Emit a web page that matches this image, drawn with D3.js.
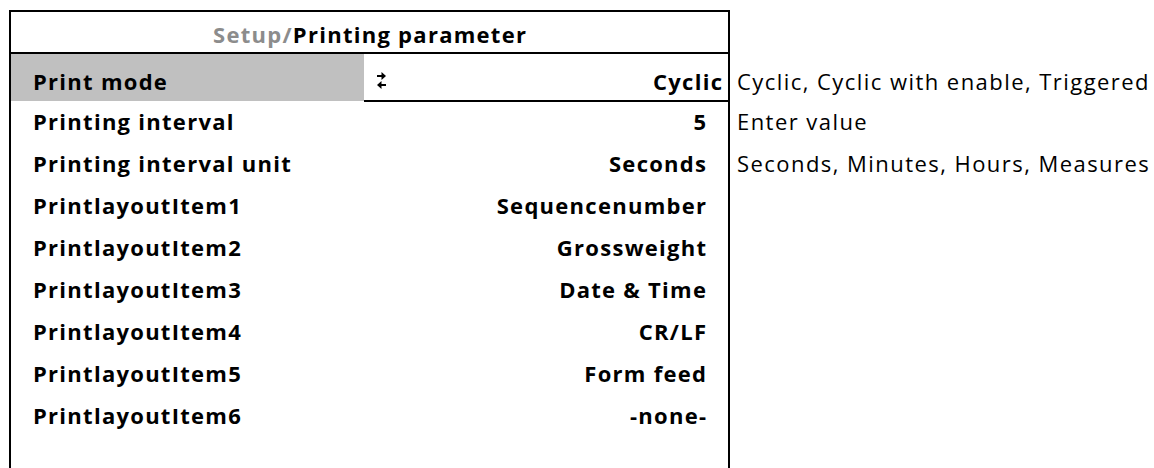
<!DOCTYPE html>
<html>
<head>
<meta charset="utf-8">
<script src="https://cdn.jsdelivr.net/npm/d3@7"></script>
<style>
  html, body { margin: 0; padding: 0; background: #fff; }
  svg { display: block; }
  text { font-family: "Open Sans", Lato, sans-serif; font-variant-ligatures: none; }
</style>
</head>
<body>
<div id="chart"></div>
<script>
// ---- data ----
const titlePrefix = "Setup/";
const titleMain = "Printing parameter";
const labels = [
  "Print mode",
  "Printing interval",
  "Printing interval unit",
  "PrintlayoutItem1",
  "PrintlayoutItem2",
  "PrintlayoutItem3",
  "PrintlayoutItem4",
  "PrintlayoutItem5",
  "PrintlayoutItem6"
];
const values = [
  "Cyclic",
  "5",
  "Seconds",
  "Sequencenumber",
  "Grossweight",
  "Date & Time",
  "CR/LF",
  "Form feed",
  "-none-"
];
const options = [
  "Cyclic, Cyclic with enable, Triggered",
  "Enter value",
  "Seconds, Minutes, Hours, Measures",
  "", "", "", "", "", ""
];
const selectedIndex = 0;

// ---- layout ----
const W = 1154, H = 468;
const boxLeft = 10, boxRight = 729, boxTop = 11, headerBottom = 53, selBottom = 101;
const splitX = 364;
const labelX = 33, valueRight = 706, selValueRight = 722, optX = 737;
const fs = 22;

const svg = d3.select("#chart").append("svg")
  .attr("width", W).attr("height", H);

svg.append("rect").attr("width", W).attr("height", H).attr("fill", "#fff");

// fit letter-spacing so the type runs at the reference's set width
function fitSpacing(str, weight, targetWidth) {
  const t = svg.append("text").attr("font-size", fs).attr("font-weight", weight).text(str);
  const w = t.node().getComputedTextLength();
  t.remove();
  return (targetWidth - w) / str.length;
}
const lsBold = fitSpacing("Printing interval unit", "bold", 259);
const lsReg = fitSpacing("Cyclic, Cyclic with enable, Triggered", "normal", 413);

// row baseline scale
const yBase = d3.scaleLinear().domain([1, labels.length - 1]).range([130, 130 + 42 * (labels.length - 2)]);
const baseline = i => i === selectedIndex ? 90 : yBase(i);

// selected row gray fill
svg.append("rect")
  .attr("x", boxLeft).attr("y", headerBottom)
  .attr("width", splitX - boxLeft).attr("height", selBottom - headerBottom)
  .attr("fill", "#c0c0c0");

// lines
const lw = 2;
const line = (x1, y1, x2, y2) => svg.append("line")
  .attr("x1", x1).attr("y1", y1).attr("x2", x2).attr("y2", y2)
  .attr("stroke", "#000").attr("stroke-width", lw);

line(boxLeft, boxTop, boxRight, boxTop);
line(boxLeft, boxTop - 1, boxLeft, H + 5);
line(boxRight, boxTop - 1, boxRight, H + 5);
line(boxLeft, headerBottom, boxRight, headerBottom);
line(splitX, selBottom, boxRight, selBottom);

// header
const ht = svg.append("text")
  .attr("x", (boxLeft + boxRight) / 2 + lsBold / 2).attr("y", 43)
  .attr("text-anchor", "middle")
  .attr("font-size", fs).attr("font-weight", "bold")
  .attr("letter-spacing", lsBold);
ht.append("tspan").attr("fill", "#8c8c8c").text(titlePrefix);
ht.append("tspan").attr("fill", "#000").text(titleMain);

// labels
svg.selectAll("text.label").data(labels).join("text")
  .attr("class", "label")
  .attr("x", labelX).attr("y", (d, i) => baseline(i))
  .attr("font-size", fs).attr("font-weight", "bold").attr("fill", "#000")
  .attr("letter-spacing", lsBold)
  .text(d => d);

// values
svg.selectAll("text.value").data(values).join("text")
  .attr("class", "value")
  .attr("x", (d, i) => (i === selectedIndex ? selValueRight : valueRight) + lsBold)
  .attr("y", (d, i) => baseline(i))
  .attr("text-anchor", "end")
  .attr("font-size", fs).attr("font-weight", "bold").attr("fill", "#000")
  .attr("letter-spacing", lsBold)
  .text(d => d);

// options
svg.selectAll("text.opt").data(options).join("text")
  .attr("class", "opt")
  .attr("x", optX).attr("y", (d, i) => baseline(i))
  .attr("font-size", fs).attr("fill", "#000")
  .attr("letter-spacing", lsReg)
  .text(d => d);

// toggle arrows icon in selected row
const ax = 377, ay = 76;
const g = svg.append("g");
g.append("line").attr("x1", ax).attr("y1", ay).attr("x2", ax + 6).attr("y2", ay)
  .attr("stroke", "#000").attr("stroke-width", 2);
g.append("path").attr("d", `M${ax + 9},${ay} L${ax + 4.5},${ay - 4} L${ax + 4.5},${ay + 4} Z`).attr("fill", "#000");
g.append("line").attr("x1", ax + 3).attr("y1", ay + 9).attr("x2", ax + 9).attr("y2", ay + 9)
  .attr("stroke", "#000").attr("stroke-width", 2);
g.append("path").attr("d", `M${ax},${ay + 9} L${ax + 4.5},${ay + 5} L${ax + 4.5},${ay + 13} Z`).attr("fill", "#000");
</script>
</body>
</html>
